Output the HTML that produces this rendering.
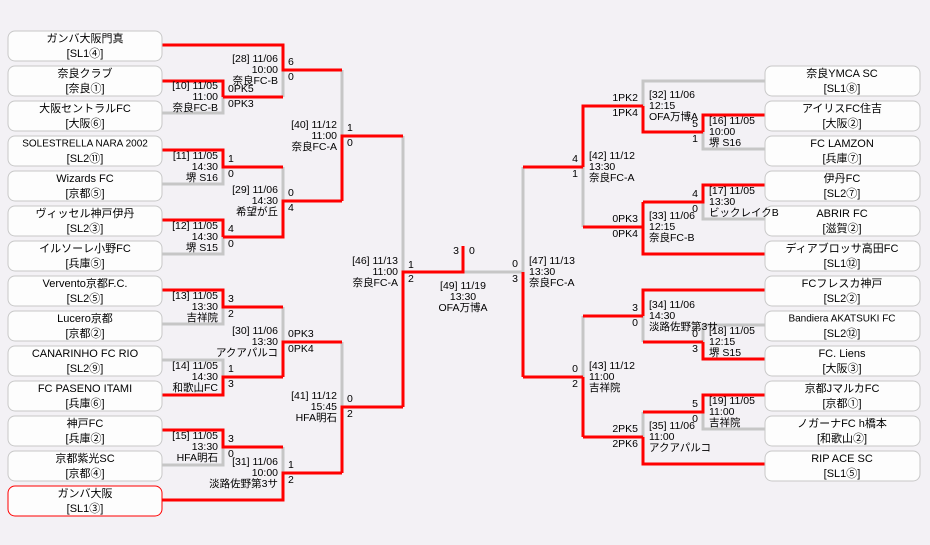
<!DOCTYPE html>
<html><head><meta charset="utf-8"><style>
html,body{margin:0;padding:0;background:#f3f1f5;}
svg{display:block;}
text{font-family:"Liberation Sans","Noto Sans CJK JP",sans-serif;font-size:10.5px;fill:#000;dominant-baseline:central;}
.e{text-anchor:end}.m{text-anchor:middle}
.r{fill:none;stroke:#f00;stroke-width:3}
.g{fill:none;stroke:#c6c6c6;stroke-width:3}
.b{fill:#fdfdfd;stroke:#c8c8c8;stroke-width:1}
.t{font-size:11px;text-anchor:middle}
</style></head><body>
<svg width="930" height="545" viewBox="0 0 930 545">
<rect width="930" height="545" fill="#f3f1f5"/>
<!-- gray lines -->
<path class="g" d="M283,70V97 M162,113H223V97 M162,184H223V167 M283,167V201 M162,254H223V237 M342,70V136 M162,324H223V307 M162,360H223V377 M283,307V342 M162,465H223V447 M283,447V473 M342,342V407 M403,136V272 M463,272H523 M523,167V272 M583,167V227 M765,81H643V106 M703,132V149H765 M703,202V219H765 M583,316V377 M643,316V342 M765,325H703V342 M703,412V429H765 M643,412V437"/>
<!-- red lines -->
<path class="r" d="M162,45H283V70H342 M223,97H283 M162,81H223V97 M162,150H223V167H283 M223,237H283V201H342 M162,220H223V237 M342,201V136H403 M162,290H223V307H283 M162,395H223V377H283 M283,377V342H342 M162,430H223V447H283 M162,500H283V473H342 M342,473V407H403 M403,407V272H463V246 M523,167H583 M523,377V272 M523,377H583 M643,106H583V167 M583,227H643 M643,106V132H703 M765,115H703V132 M765,185H703V202H643 M643,202V254H765 M583,377V437 M643,316H583 M583,437H643 M765,290H643V316 M643,342H703 M703,342V359H765 M765,395H703V412H643 M643,437V464H765"/>
<!-- left boxes -->
<g>
<rect class="b" x="8" y="31" width="154" height="30" rx="7"/><text class="t" x="85" y="39">ガンバ大阪門真</text><text class="t" x="85" y="54">[SL1④]</text>
<rect class="b" x="8" y="66" width="154" height="30" rx="7"/><text class="t" x="85" y="74">奈良クラブ</text><text class="t" x="85" y="89">[奈良①]</text>
<rect class="b" x="8" y="101" width="154" height="30" rx="7"/><text class="t" x="85" y="109">大阪セントラルFC</text><text class="t" x="85" y="124">[大阪⑥]</text>
<rect class="b" x="8" y="136" width="154" height="30" rx="7"/><text class="t" x="85" y="144" style="font-size:10px">SOLESTRELLA NARA 2002</text><text class="t" x="85" y="159">[SL2⑪]</text>
<rect class="b" x="8" y="171" width="154" height="30" rx="7"/><text class="t" x="85" y="179">Wizards FC</text><text class="t" x="85" y="194">[京都⑤]</text>
<rect class="b" x="8" y="206" width="154" height="30" rx="7"/><text class="t" x="85" y="214">ヴィッセル神戸伊丹</text><text class="t" x="85" y="229">[SL2③]</text>
<rect class="b" x="8" y="241" width="154" height="30" rx="7"/><text class="t" x="85" y="249">イルソーレ小野FC</text><text class="t" x="85" y="264">[兵庫⑤]</text>
<rect class="b" x="8" y="276" width="154" height="30" rx="7"/><text class="t" x="85" y="284">Vervento京都F.C.</text><text class="t" x="85" y="299">[SL2⑤]</text>
<rect class="b" x="8" y="311" width="154" height="30" rx="7"/><text class="t" x="85" y="319">Lucero京都</text><text class="t" x="85" y="334">[京都②]</text>
<rect class="b" x="8" y="346" width="154" height="30" rx="7"/><text class="t" x="85" y="354">CANARINHO FC RIO</text><text class="t" x="85" y="369">[SL2⑨]</text>
<rect class="b" x="8" y="381" width="154" height="30" rx="7"/><text class="t" x="85" y="389">FC PASENO ITAMI</text><text class="t" x="85" y="404">[兵庫⑥]</text>
<rect class="b" x="8" y="416" width="154" height="30" rx="7"/><text class="t" x="85" y="424">神戸FC</text><text class="t" x="85" y="439">[兵庫②]</text>
<rect class="b" x="8" y="451" width="154" height="30" rx="7"/><text class="t" x="85" y="459">京都紫光SC</text><text class="t" x="85" y="474">[京都④]</text>
<rect class="b" x="8" y="486" width="154" height="30" rx="7" style="stroke:#f00"/><text class="t" x="85" y="494">ガンバ大阪</text><text class="t" x="85" y="509">[SL1③]</text>
</g>
<!-- right boxes -->
<g>
<rect class="b" x="765" y="66" width="155" height="30" rx="7"/><text class="t" x="842" y="74">奈良YMCA SC</text><text class="t" x="842" y="89">[SL1⑧]</text>
<rect class="b" x="765" y="101" width="155" height="30" rx="7"/><text class="t" x="842" y="109">アイリスFC住吉</text><text class="t" x="842" y="124">[大阪②]</text>
<rect class="b" x="765" y="136" width="155" height="30" rx="7"/><text class="t" x="842" y="144">FC LAMZON</text><text class="t" x="842" y="159">[兵庫⑦]</text>
<rect class="b" x="765" y="171" width="155" height="30" rx="7"/><text class="t" x="842" y="179">伊丹FC</text><text class="t" x="842" y="194">[SL2⑦]</text>
<rect class="b" x="765" y="206" width="155" height="30" rx="7"/><text class="t" x="842" y="214">ABRIR FC</text><text class="t" x="842" y="229">[滋賀②]</text>
<rect class="b" x="765" y="241" width="155" height="30" rx="7"/><text class="t" x="842" y="249">ディアブロッサ高田FC</text><text class="t" x="842" y="264">[SL1⑫]</text>
<rect class="b" x="765" y="276" width="155" height="30" rx="7"/><text class="t" x="842" y="284">FCフレスカ神戸</text><text class="t" x="842" y="299">[SL2②]</text>
<rect class="b" x="765" y="311" width="155" height="30" rx="7"/><text class="t" x="842" y="319" style="font-size:10px">Bandiera AKATSUKI FC</text><text class="t" x="842" y="334">[SL2⑫]</text>
<rect class="b" x="765" y="346" width="155" height="30" rx="7"/><text class="t" x="842" y="354">FC. Liens</text><text class="t" x="842" y="369">[大阪③]</text>
<rect class="b" x="765" y="381" width="155" height="30" rx="7"/><text class="t" x="842" y="389">京都JマルカFC</text><text class="t" x="842" y="404">[京都①]</text>
<rect class="b" x="765" y="416" width="155" height="30" rx="7"/><text class="t" x="842" y="424">ノガーナFC h橋本</text><text class="t" x="842" y="439">[和歌山②]</text>
<rect class="b" x="765" y="451" width="155" height="30" rx="7"/><text class="t" x="842" y="459">RIP ACE SC</text><text class="t" x="842" y="474">[SL1⑤]</text>
</g>
<!-- left match labels -->
<g class="e">
<text x="218" y="86">[10] 11/05</text><text x="218" y="97">11:00</text><text x="218" y="108">奈良FC-B</text>
<text x="278" y="59">[28] 11/06</text><text x="278" y="70">10:00</text><text x="278" y="81">奈良FC-B</text>
<text x="218" y="156">[11] 11/05</text><text x="218" y="167">14:30</text><text x="218" y="178">堺 S16</text>
<text x="278" y="190">[29] 11/06</text><text x="278" y="201">14:30</text><text x="278" y="212">希望が丘</text>
<text x="218" y="226">[12] 11/05</text><text x="218" y="237">14:30</text><text x="218" y="248">堺 S15</text>
<text x="337" y="125">[40] 11/12</text><text x="337" y="136">11:00</text><text x="337" y="147">奈良FC-A</text>
<text x="218" y="296">[13] 11/05</text><text x="218" y="307">13:30</text><text x="218" y="318">吉祥院</text>
<text x="278" y="331">[30] 11/06</text><text x="278" y="342">13:30</text><text x="278" y="353">アクアパルコ</text>
<text x="218" y="366">[14] 11/05</text><text x="218" y="377">14:30</text><text x="218" y="388">和歌山FC</text>
<text x="337" y="396">[41] 11/12</text><text x="337" y="407">15:45</text><text x="337" y="418">HFA明石</text>
<text x="218" y="436">[15] 11/05</text><text x="218" y="447">13:30</text><text x="218" y="458">HFA明石</text>
<text x="278" y="462">[31] 11/06</text><text x="278" y="473">10:00</text><text x="278" y="484">淡路佐野第3サ</text>
<text x="398" y="261">[46] 11/13</text><text x="398" y="272">11:00</text><text x="398" y="283">奈良FC-A</text>
</g>
<!-- left scores -->
<g>
<text x="228" y="89">0PK5</text><text x="228" y="104">0PK3</text>
<text x="288" y="62">6</text><text x="288" y="77">0</text>
<text x="228" y="159">1</text><text x="228" y="174">0</text>
<text x="288" y="193">0</text><text x="288" y="208">4</text>
<text x="228" y="229">4</text><text x="228" y="244">0</text>
<text x="347" y="128">1</text><text x="347" y="143">0</text>
<text x="228" y="299">3</text><text x="228" y="314">2</text>
<text x="288" y="334">0PK3</text><text x="288" y="349">0PK4</text>
<text x="228" y="369">1</text><text x="228" y="384">3</text>
<text x="347" y="399">0</text><text x="347" y="414">2</text>
<text x="228" y="439">3</text><text x="228" y="454">0</text>
<text x="288" y="465">1</text><text x="288" y="480">2</text>
<text x="408" y="265">1</text><text x="408" y="279">2</text>
</g>
<!-- final -->
<text class="e" x="459" y="251">3</text><text x="469" y="251">0</text>
<text class="m" x="463" y="286">[49] 11/19</text><text class="m" x="463" y="297">13:30</text><text class="m" x="463" y="308">OFA万博A</text>
<!-- right labels -->
<g>
<text x="649" y="95">[32] 11/06</text><text x="649" y="106">12:15</text><text x="649" y="117">OFA万博A</text>
<text x="709" y="121">[16] 11/05</text><text x="709" y="132">10:00</text><text x="709" y="143">堺 S16</text>
<text x="589" y="156">[42] 11/12</text><text x="589" y="167">13:30</text><text x="589" y="178">奈良FC-A</text>
<text x="709" y="191">[17] 11/05</text><text x="709" y="202">13:30</text><text x="709" y="213">ビックレイクB</text>
<text x="649" y="216">[33] 11/06</text><text x="649" y="227">12:15</text><text x="649" y="238">奈良FC-B</text>
<text x="529" y="261">[47] 11/13</text><text x="529" y="272">13:30</text><text x="529" y="283">奈良FC-A</text>
<text x="649" y="305">[34] 11/06</text><text x="649" y="316">14:30</text><text x="649" y="327">淡路佐野第3サ</text>
<text x="709" y="331">[18] 11/05</text><text x="709" y="342">12:15</text><text x="709" y="353">堺 S15</text>
<text x="589" y="366">[43] 11/12</text><text x="589" y="377">11:00</text><text x="589" y="388">吉祥院</text>
<text x="709" y="401">[19] 11/05</text><text x="709" y="412">11:00</text><text x="709" y="423">吉祥院</text>
<text x="649" y="426">[35] 11/06</text><text x="649" y="437">11:00</text><text x="649" y="448">アクアパルコ</text>
</g>
<!-- right scores -->
<g class="e">
<text x="638" y="98">1PK2</text><text x="638" y="113">1PK4</text>
<text x="698" y="124">5</text><text x="698" y="139">1</text>
<text x="578" y="159">4</text><text x="578" y="174">1</text>
<text x="698" y="194">4</text><text x="698" y="209">0</text>
<text x="638" y="219">0PK3</text><text x="638" y="234">0PK4</text>
<text x="518" y="264">0</text><text x="518" y="279">3</text>
<text x="638" y="308">3</text><text x="638" y="323">0</text>
<text x="698" y="334">0</text><text x="698" y="349">3</text>
<text x="578" y="369">0</text><text x="578" y="384">2</text>
<text x="698" y="404">5</text><text x="698" y="419">0</text>
<text x="638" y="429">2PK5</text><text x="638" y="444">2PK6</text>
</g>
</svg>
</body></html>
